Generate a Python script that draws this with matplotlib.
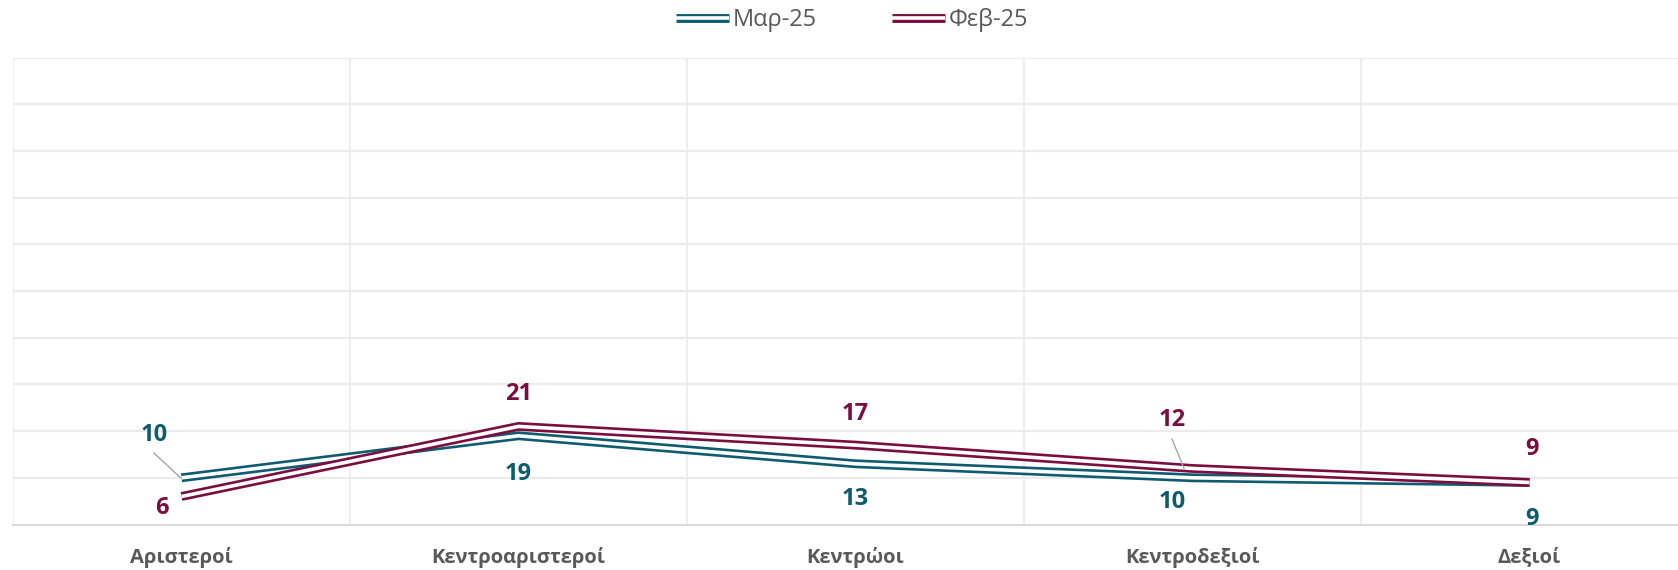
import matplotlib
matplotlib.use("Agg")
import matplotlib.pyplot as plt
from matplotlib.lines import Line2D
from matplotlib.legend_handler import HandlerTuple
from matplotlib import transforms

plt.rcParams['font.family'] = ['Open Sans', 'DejaVu Sans']

categories = ["Αριστεροί", "Κεντροαριστεροί", "Κεντρώοι", "Κεντροδεξιοί", "Δεξιοί"]
series_names = ["Μαρ-25", "Φεβ-25"]
mar25 = [10, 19, 13, 10, 9]
feb25 = [6, 21, 17, 12, 9]

colors = ["#0F5C70", "#7A0E3F"]
W, H, DPI = 1678, 570, 100

fig = plt.figure(figsize=(W / DPI, H / DPI), dpi=DPI)
ax = fig.add_axes([13 / W, (H - 524.5) / H, 1685 / W, 467 / H])

x = list(range(len(categories)))
ax.set_xlim(-0.5, len(categories) - 0.5)
ax.set_ylim(0, 100)

# grid
ax.set_yticks(range(0, 101, 10))
ax.set_xticks([i - 0.5 for i in range(len(categories) + 1)], minor=True)
ax.grid(axis='y', which='major', color='#EBEBEB', lw=1.6, zorder=0)
ax.grid(axis='x', which='minor', color='#EBEBEB', lw=1.2, zorder=0)
ax.tick_params(axis='y', left=False, labelleft=False)
ax.tick_params(axis='x', which='both', length=0)
ax.set_xticks(x)
ax.set_xticklabels(categories, fontsize=14.5, fontweight='bold', color='#595959')
ax.tick_params(axis='x', pad=16)
for s in ['top', 'right', 'left']:
    ax.spines[s].set_visible(False)
ax.spines['bottom'].set_color('#D9D9D9')
ax.spines['bottom'].set_linewidth(1.4)

outer_lw, inner_lw = 6.4, 2.6
handles = []
for vals, c, name in zip([mar25, feb25], colors, series_names):
    ax.plot(x, vals, color=c, lw=outer_lw, solid_joinstyle='miter',
            solid_capstyle='butt', zorder=3)
    ax.plot(x, vals, color='white', lw=inner_lw, solid_joinstyle='miter',
            solid_capstyle='butt', zorder=3)
    h1 = Line2D([], [], color=c, lw=outer_lw, solid_capstyle='butt')
    h2 = Line2D([], [], color='white', lw=inner_lw, solid_capstyle='butt')
    handles.append((h1, h2))

def off(dx, dy):
    return transforms.offset_copy(ax.transData, fig=fig, x=dx, y=dy, units='dots')

# label offsets (pixels) relative to data points
mar_offsets = [(-27.5, 42.8), (0, -38.7), (0, -35), (-20.5, -24), (2, -36.5)]
feb_offsets = [(-19.5, -11.5), (0, 32), (0, 31), (-20.5, 48), (2, 33.5)]

for vals, offs, c in [(mar25, mar_offsets, colors[0]), (feb25, feb_offsets, colors[1])]:
    for i, (v, (dx, dy)) in enumerate(zip(vals, offs)):
        ax.text(i, v, str(v), transform=off(dx, dy), ha='center', va='center',
                fontsize=17, fontweight='bold', color=c, zorder=5)

# leader lines
def leader(i, v, p0, p1):
    t0 = off(*p0)
    t1 = off(*p1)
    x0, y0 = t0.transform((i, v))
    x1, y1 = t1.transform((i, v))
    ax.add_line(Line2D([x0, x1], [y0, y1], transform=None, color='#A6A6A6', lw=1.0, zorder=4))

leader(0, mar25[0], (-27.5, 24.8), (-1, 0))
leader(3, feb25[3], (-20.5, 29.5), (-8.5, 0))

leg = fig.legend(handles, series_names, handler_map={tuple: HandlerTuple(ndivide=1)},
                 loc='center', bbox_to_anchor=(852 / W, 1 - 20 / H), ncol=2, frameon=False,
                 fontsize=17, handlelength=2.25, handletextpad=0.15, columnspacing=3.2,
                 labelcolor='#595959')

fig.savefig("out.png", dpi=DPI)
